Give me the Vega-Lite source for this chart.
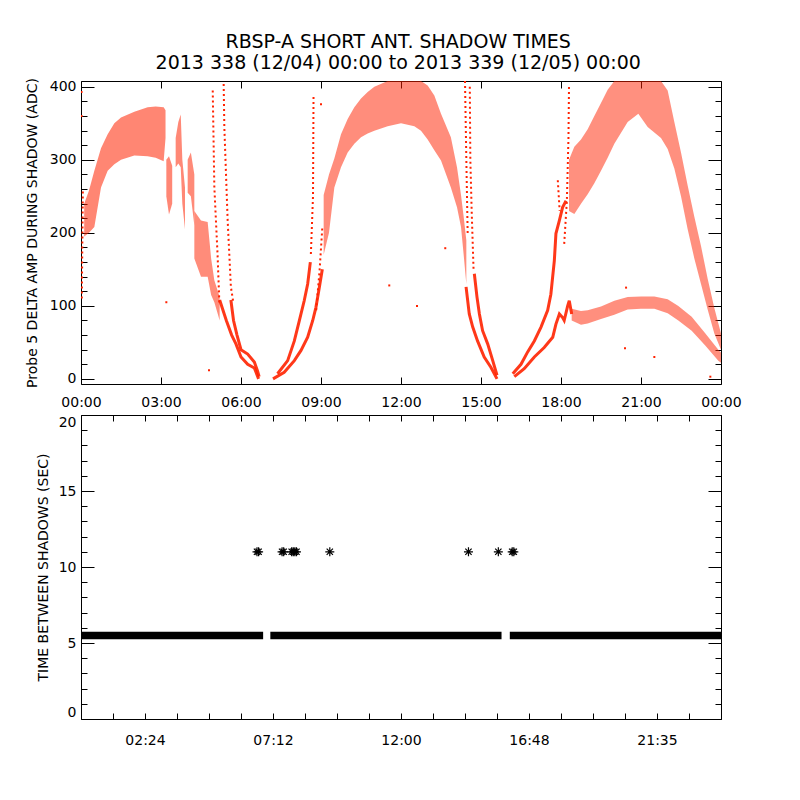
{
  "$schema": "https://vega.github.io/schema/vega-lite/v6.json",
  "background": "white",
  "padding": {"left": 24, "top": 33, "right": 10, "bottom": 10},
  "title": {
    "text": ["RBSP-A SHORT ANT. SHADOW TIMES", "2013 338 (12/04) 00:00 to 2013 339 (12/05) 00:00"],
    "font": "DejaVu Sans", "fontSize": 19, "fontWeight": "normal", "color": "black",
    "anchor": "middle", "lineHeight": 21, "offset": 4, "dx": 15
  },
  "config": {
    "view": {"stroke": "black", "strokeWidth": 1},
    "axis": {
      "domain": false, "grid": false, "tickColor": "black", "tickWidth": 1,
      "labelColor": "black", "labelFont": "DejaVu Sans", "labelFontSize": 14,
      "titleFont": "DejaVu Sans", "titleFontSize": 14, "titleFontWeight": "normal", "titleColor": "black",
      "labelOverlap": false, "labelFlush": false
    }
  },
  "spacing": 4,
  "datasets": {
    "bands": [
      {"g": "A", "t": 0.12, "lo": 195, "hi": 240},
      {"g": "A", "t": 0.3, "lo": 200, "hi": 258},
      {"g": "A", "t": 0.5, "lo": 208, "hi": 285},
      {"g": "A", "t": 0.75, "lo": 262, "hi": 316},
      {"g": "A", "t": 1.0, "lo": 285, "hi": 335},
      {"g": "A", "t": 1.25, "lo": 294, "hi": 350},
      {"g": "A", "t": 1.5, "lo": 300, "hi": 358},
      {"g": "A", "t": 2.0, "lo": 306, "hi": 366},
      {"g": "A", "t": 2.5, "lo": 305, "hi": 372},
      {"g": "A", "t": 2.8, "lo": 303, "hi": 373},
      {"g": "A", "t": 3.1, "lo": 298, "hi": 372},
      {"g": "A", "t": 3.17, "lo": 330, "hi": 368},
      {"g": "B", "t": 3.2, "lo": 250, "hi": 300},
      {"g": "B", "t": 3.3, "lo": 225, "hi": 305},
      {"g": "B", "t": 3.42, "lo": 240, "hi": 292},
      {"g": "C", "t": 3.55, "lo": 290, "hi": 330},
      {"g": "C", "t": 3.65, "lo": 295, "hi": 352},
      {"g": "C", "t": 3.74, "lo": 290, "hi": 362},
      {"g": "C", "t": 3.8, "lo": 240, "hi": 300},
      {"g": "C", "t": 3.9, "lo": 205, "hi": 262},
      {"g": "D", "t": 4.0, "lo": 255, "hi": 300},
      {"g": "D", "t": 4.12, "lo": 250, "hi": 310},
      {"g": "D", "t": 4.25, "lo": 210, "hi": 280},
      {"g": "E", "t": 4.25, "lo": 165, "hi": 230},
      {"g": "E", "t": 4.5, "lo": 140, "hi": 217},
      {"g": "E", "t": 4.75, "lo": 140, "hi": 215},
      {"g": "E", "t": 4.88, "lo": 115, "hi": 165},
      {"g": "E", "t": 5.0, "lo": 105, "hi": 135},
      {"g": "E", "t": 5.2, "lo": 80, "hi": 112},
      {"g": "F", "t": 9.1, "lo": 170, "hi": 252},
      {"g": "F", "t": 9.3, "lo": 200, "hi": 280},
      {"g": "F", "t": 9.5, "lo": 262, "hi": 302},
      {"g": "F", "t": 9.75, "lo": 290, "hi": 335},
      {"g": "F", "t": 10.0, "lo": 310, "hi": 356},
      {"g": "F", "t": 10.25, "lo": 322, "hi": 372},
      {"g": "F", "t": 10.5, "lo": 331, "hi": 384},
      {"g": "F", "t": 10.75, "lo": 336, "hi": 393},
      {"g": "F", "t": 11.0, "lo": 340, "hi": 400},
      {"g": "F", "t": 11.5, "lo": 346, "hi": 408},
      {"g": "F", "t": 12.0, "lo": 350, "hi": 408},
      {"g": "F", "t": 12.5, "lo": 346, "hi": 408},
      {"g": "F", "t": 12.75, "lo": 340, "hi": 408},
      {"g": "F", "t": 13.0, "lo": 328, "hi": 402},
      {"g": "F", "t": 13.25, "lo": 313, "hi": 388},
      {"g": "F", "t": 13.5, "lo": 299, "hi": 363},
      {"g": "F", "t": 13.87, "lo": 262, "hi": 331},
      {"g": "F", "t": 14.1, "lo": 235, "hi": 290},
      {"g": "F", "t": 14.25, "lo": 208, "hi": 252},
      {"g": "F", "t": 14.35, "lo": 170, "hi": 222},
      {"g": "F", "t": 14.45, "lo": 130, "hi": 190},
      {"g": "H", "t": 18.4, "lo": 80, "hi": 96},
      {"g": "H", "t": 18.75, "lo": 74, "hi": 93},
      {"g": "H", "t": 19.0, "lo": 76, "hi": 94},
      {"g": "H", "t": 19.5, "lo": 82, "hi": 99},
      {"g": "H", "t": 20.0, "lo": 88, "hi": 107},
      {"g": "H", "t": 20.5, "lo": 95, "hi": 112},
      {"g": "H", "t": 21.0, "lo": 96, "hi": 113},
      {"g": "H", "t": 21.5, "lo": 96, "hi": 113},
      {"g": "H", "t": 22.0, "lo": 90, "hi": 109},
      {"g": "H", "t": 22.4, "lo": 80, "hi": 100},
      {"g": "H", "t": 22.9, "lo": 66, "hi": 85},
      {"g": "H", "t": 23.4, "lo": 46, "hi": 63},
      {"g": "H", "t": 23.9, "lo": 25, "hi": 40},
      {"g": "H", "t": 24.0, "lo": 22, "hi": 36},
      {"g": "I", "t": 18.3, "lo": 230, "hi": 300},
      {"g": "I", "t": 18.5, "lo": 226, "hi": 318},
      {"g": "I", "t": 18.75, "lo": 240, "hi": 328},
      {"g": "I", "t": 19.0, "lo": 253, "hi": 342},
      {"g": "I", "t": 19.25, "lo": 268, "hi": 360},
      {"g": "I", "t": 19.5, "lo": 285, "hi": 378},
      {"g": "I", "t": 19.75, "lo": 303, "hi": 396},
      {"g": "I", "t": 20.0, "lo": 322, "hi": 408},
      {"g": "I", "t": 20.5, "lo": 352, "hi": 408},
      {"g": "I", "t": 20.9, "lo": 363, "hi": 408},
      {"g": "I", "t": 21.25, "lo": 345, "hi": 408},
      {"g": "I", "t": 21.75, "lo": 330, "hi": 408},
      {"g": "I", "t": 22.0, "lo": 315, "hi": 395},
      {"g": "I", "t": 22.25, "lo": 288, "hi": 352},
      {"g": "I", "t": 22.5, "lo": 250, "hi": 310},
      {"g": "I", "t": 22.75, "lo": 205, "hi": 265},
      {"g": "I", "t": 23.0, "lo": 165, "hi": 222},
      {"g": "I", "t": 23.25, "lo": 130, "hi": 182},
      {"g": "I", "t": 23.5, "lo": 95, "hi": 137},
      {"g": "I", "t": 23.75, "lo": 62, "hi": 97},
      {"g": "I", "t": 24.0, "lo": 40, "hi": 62}
    ],
    "lines": [
      {"g": "L1", "t": 5.2, "v": 108}, {"g": "L1", "t": 5.45, "v": 80}, {"g": "L1", "t": 5.65, "v": 60},
      {"g": "L1", "t": 5.81, "v": 48}, {"g": "L1", "t": 6.0, "v": 30}, {"g": "L1", "t": 6.25, "v": 20},
      {"g": "L1", "t": 6.5, "v": 15}, {"g": "L1", "t": 6.66, "v": 0},
      {"g": "L2", "t": 5.62, "v": 108}, {"g": "L2", "t": 5.72, "v": 80}, {"g": "L2", "t": 5.85, "v": 60},
      {"g": "L2", "t": 6.0, "v": 40}, {"g": "L2", "t": 6.25, "v": 34}, {"g": "L2", "t": 6.5, "v": 23},
      {"g": "L2", "t": 6.62, "v": 11}, {"g": "L2", "t": 6.68, "v": 3},
      {"g": "F1", "t": 7.2, "v": 0}, {"g": "F1", "t": 7.62, "v": 9}, {"g": "F1", "t": 8.0, "v": 25},
      {"g": "F1", "t": 8.25, "v": 39}, {"g": "F1", "t": 8.5, "v": 57}, {"g": "F1", "t": 8.69, "v": 80},
      {"g": "F1", "t": 8.81, "v": 98}, {"g": "F1", "t": 8.94, "v": 126}, {"g": "F1", "t": 9.05, "v": 150},
      {"g": "F2", "t": 7.37, "v": 7}, {"g": "F2", "t": 7.75, "v": 25}, {"g": "F2", "t": 8.0, "v": 52},
      {"g": "F2", "t": 8.19, "v": 80}, {"g": "F2", "t": 8.37, "v": 107}, {"g": "F2", "t": 8.5, "v": 130},
      {"g": "F2", "t": 8.6, "v": 160},
      {"g": "M1", "t": 14.44, "v": 126}, {"g": "M1", "t": 14.56, "v": 89}, {"g": "M1", "t": 14.69, "v": 71},
      {"g": "M1", "t": 14.87, "v": 52}, {"g": "M1", "t": 15.12, "v": 30}, {"g": "M1", "t": 15.37, "v": 16},
      {"g": "M1", "t": 15.6, "v": 0},
      {"g": "M2", "t": 14.75, "v": 144}, {"g": "M2", "t": 14.85, "v": 112}, {"g": "M2", "t": 14.94, "v": 89},
      {"g": "M2", "t": 15.06, "v": 66}, {"g": "M2", "t": 15.25, "v": 48}, {"g": "M2", "t": 15.44, "v": 25},
      {"g": "M2", "t": 15.6, "v": 5},
      {"g": "G1", "t": 16.19, "v": 7}, {"g": "G1", "t": 16.5, "v": 20}, {"g": "G1", "t": 16.75, "v": 37},
      {"g": "G1", "t": 17.0, "v": 52}, {"g": "G1", "t": 17.25, "v": 71}, {"g": "G1", "t": 17.5, "v": 94},
      {"g": "G1", "t": 17.62, "v": 116}, {"g": "G1", "t": 17.75, "v": 162}, {"g": "G1", "t": 17.81, "v": 199},
      {"g": "G1", "t": 17.94, "v": 217}, {"g": "G1", "t": 18.06, "v": 235}, {"g": "G1", "t": 18.19, "v": 244},
      {"g": "G2", "t": 16.25, "v": 3}, {"g": "G2", "t": 16.62, "v": 14}, {"g": "G2", "t": 17.0, "v": 30},
      {"g": "G2", "t": 17.37, "v": 43}, {"g": "G2", "t": 17.69, "v": 57}, {"g": "G2", "t": 17.81, "v": 75},
      {"g": "G2", "t": 17.94, "v": 89}, {"g": "G2", "t": 18.06, "v": 84}, {"g": "G2", "t": 18.12, "v": 80},
      {"g": "G2", "t": 18.25, "v": 100}, {"g": "G2", "t": 18.31, "v": 107}, {"g": "G2", "t": 18.4, "v": 89}
    ],
    "streaks": [
      {"g": "S0", "t": 0.03, "v": 110}, {"g": "S0", "t": 0.07, "v": 260},
      {"g": "S1", "t": 4.94, "v": 395}, {"g": "S1", "t": 5.0, "v": 263}, {"g": "S1", "t": 5.12, "v": 171}, {"g": "S1", "t": 5.19, "v": 103},
      {"g": "S2", "t": 5.35, "v": 404}, {"g": "S2", "t": 5.375, "v": 345}, {"g": "S2", "t": 5.5, "v": 217}, {"g": "S2", "t": 5.62, "v": 126}, {"g": "S2", "t": 5.72, "v": 103},
      {"g": "S3", "t": 8.72, "v": 390}, {"g": "S3", "t": 8.7, "v": 250}, {"g": "S3", "t": 8.62, "v": 171},
      {"g": "S4", "t": 8.82, "v": 94}, {"g": "S4", "t": 8.95, "v": 150}, {"g": "S4", "t": 9.05, "v": 208},
      {"g": "S5", "t": 14.4, "v": 408}, {"g": "S5", "t": 14.45, "v": 300}, {"g": "S5", "t": 14.5, "v": 199},
      {"g": "S6", "t": 14.58, "v": 400}, {"g": "S6", "t": 14.6, "v": 300}, {"g": "S6", "t": 14.65, "v": 230}, {"g": "S6", "t": 14.72, "v": 150},
      {"g": "S7", "t": 18.3, "v": 400}, {"g": "S7", "t": 18.28, "v": 330}, {"g": "S7", "t": 18.22, "v": 244}, {"g": "S7", "t": 18.12, "v": 185},
      {"g": "S8", "t": 17.88, "v": 272}, {"g": "S8", "t": 17.95, "v": 230}
    ],
    "dots": [
      {"t": 3.2, "v": 105}, {"t": 4.8, "v": 12}, {"t": 11.56, "v": 128}, {"t": 12.6, "v": 100},
      {"t": 13.66, "v": 179}, {"t": 20.4, "v": 42}, {"t": 21.5, "v": 30}, {"t": 23.6, "v": 3},
      {"t": 20.44, "v": 125}, {"t": 9.0, "v": 376}, {"t": 0.02, "v": 393}, {"t": 0.02, "v": 360}
    ],
    "segs": [
      {"t0": 0, "t1": 6.83, "v": 5.5},
      {"t0": 7.1, "t1": 15.77, "v": 5.5},
      {"t0": 16.08, "t1": 24, "v": 5.5}
    ],
    "stars": [
      {"t": 6.6, "v": 11}, {"t": 6.66, "v": 11}, {"t": 7.54, "v": 11}, {"t": 7.6, "v": 11},
      {"t": 7.9, "v": 11}, {"t": 7.96, "v": 11}, {"t": 8.02, "v": 11}, {"t": 8.08, "v": 11},
      {"t": 9.33, "v": 11}, {"t": 14.53, "v": 11}, {"t": 15.65, "v": 11},
      {"t": 16.17, "v": 11}, {"t": 16.23, "v": 11}
    ]
  },
  "vconcat": [
    {
      "width": 640,
      "height": 303,
      "layer": [
        {
          "data": {"name": "bands"},
          "mark": {"type": "area", "color": "#ff2200", "clip": true},
          "encoding": {
            "x": {"field": "t", "type": "quantitative",
              "scale": {"domain": [0, 24], "nice": false, "zero": false},
              "axis": {"orient": "bottom", "title": null, "values": [0, 3, 6, 9, 12, 15, 18, 21, 24],
                "labelExpr": "datum.value == 24 ? '00:00' : (datum.value < 10 ? '0' : '') + datum.value + ':00'",
                "tickSize": -7, "labelPadding": 18}},
            "y": {"field": "lo", "type": "quantitative",
              "scale": {"domain": [-7, 408], "nice": false, "zero": false},
              "axis": {"orient": "left", "title": "Probe 5 DELTA AMP DURING SHADOW (ADC)",
                "values": [0, 20, 40, 60, 80, 100, 120, 140, 160, 180, 200, 220, 240, 260, 280, 300, 320, 340, 360, 380, 400],
                "labelExpr": "datum.value % 100 == 0 ? datum.value : ''",
                "tickSize": {"condition": {"test": "datum.value % 100 == 0", "value": -13}, "value": -6},
                "labelPadding": 18, "titlePadding": 10}},
            "y2": {"field": "hi"},
            "detail": {"field": "g"},
            "opacity": {"field": "g", "type": "nominal", "legend": null,
              "scale": {"domain": ["A", "B", "C", "D", "E", "F", "H", "I"], "range": [0.55, 0.5, 0.5, 0.5, 0.55, 0.55, 0.8, 0.4]}}
          }
        },
        {
          "data": {"name": "lines"},
          "mark": {"type": "line", "color": "#ff2200", "strokeWidth": 3, "opacity": 0.9, "clip": true},
          "encoding": {
            "x": {"field": "t", "type": "quantitative",
              "axis": {"orient": "top", "title": null, "values": [0, 3, 6, 9, 12, 15, 18, 21, 24], "labels": false, "tickSize": -7}},
            "y": {"field": "v", "type": "quantitative",
              "axis": {"orient": "right", "title": null, "labels": false,
                "values": [0, 20, 40, 60, 80, 100, 120, 140, 160, 180, 200, 220, 240, 260, 280, 300, 320, 340, 360, 380, 400],
                "tickSize": {"condition": {"test": "datum.value % 100 == 0", "value": -13}, "value": -6}}},
            "detail": {"field": "g"}
          }
        },
        {
          "data": {"name": "streaks"},
          "mark": {"type": "line", "color": "#ff2200", "strokeWidth": 2, "strokeDash": [2, 3], "clip": true},
          "encoding": {
            "x": {"field": "t", "type": "quantitative", "axis": null},
            "y": {"field": "v", "type": "quantitative", "axis": null},
            "detail": {"field": "g"}
          }
        },
        {
          "data": {"name": "dots"},
          "mark": {"type": "square", "color": "#ff2200", "size": 4, "opacity": 1, "clip": true},
          "encoding": {
            "x": {"field": "t", "type": "quantitative", "axis": null},
            "y": {"field": "v", "type": "quantitative", "axis": null}
          }
        }
      ],
      "resolve": {"axis": {"x": "independent", "y": "independent"}}
    },
    {
      "width": 640,
      "height": 304,
      "layer": [
        {
          "data": {"name": "segs"},
          "mark": {"type": "rule", "color": "black", "strokeWidth": 7.5},
          "encoding": {
            "x": {"field": "t0", "type": "quantitative",
              "scale": {"domain": [0, 24], "nice": false, "zero": false},
              "axis": {"orient": "bottom", "title": null,
                "values": [0, 1.2, 2.4, 3.6, 4.8, 6, 7.2, 8.4, 9.6, 10.8, 12, 13.2, 14.4, 15.6, 16.8, 18, 19.2, 20.4, 21.6, 22.8, 24],
                "labelExpr": "datum.value == 2.4 ? '02:24' : datum.value == 7.2 ? '07:12' : datum.value == 12 ? '12:00' : datum.value == 16.8 ? '16:48' : datum.value == 21.6 ? '21:35' : ''",
                "tickSize": -6, "labelPadding": 20}},
            "x2": {"field": "t1"},
            "y": {"field": "v", "type": "quantitative",
              "scale": {"domain": [0, 20], "nice": false, "zero": false},
              "axis": {"orient": "left", "title": "TIME BETWEEN SHADOWS (SEC)",
                "values": [0, 1, 2, 3, 4, 5, 6, 7, 8, 9, 10, 11, 12, 13, 14, 15, 16, 17, 18, 19, 20],
                "labelExpr": "datum.value % 5 == 0 ? datum.value : ''",
                "tickSize": {"condition": {"test": "datum.value % 5 == 0", "value": -13}, "value": -6},
                "labelFlush": true,
                "labelPadding": 18, "titlePadding": 8}}
          }
        },
        {
          "data": {"name": "stars"},
          "mark": {"type": "point", "shape": "M-1,0L1,0M0,-1L0,1M-0.7,-0.7L0.7,0.7M-0.7,0.7L0.7,-0.7",
            "filled": false, "color": "black", "strokeWidth": 1.2, "size": 81, "opacity": 1},
          "encoding": {
            "x": {"field": "t", "type": "quantitative",
              "axis": {"orient": "top", "title": null, "labels": false,
                "values": [0, 1.2, 2.4, 3.6, 4.8, 6, 7.2, 8.4, 9.6, 10.8, 12, 13.2, 14.4, 15.6, 16.8, 18, 19.2, 20.4, 21.6, 22.8, 24],
                "tickSize": -6}},
            "y": {"field": "v", "type": "quantitative",
              "axis": {"orient": "right", "title": null, "labels": false,
                "values": [0, 1, 2, 3, 4, 5, 6, 7, 8, 9, 10, 11, 12, 13, 14, 15, 16, 17, 18, 19, 20],
                "tickSize": {"condition": {"test": "datum.value % 5 == 0", "value": -13}, "value": -6}}}
          }
        }
      ],
      "resolve": {"axis": {"x": "independent", "y": "independent"}}
    }
  ]
}
